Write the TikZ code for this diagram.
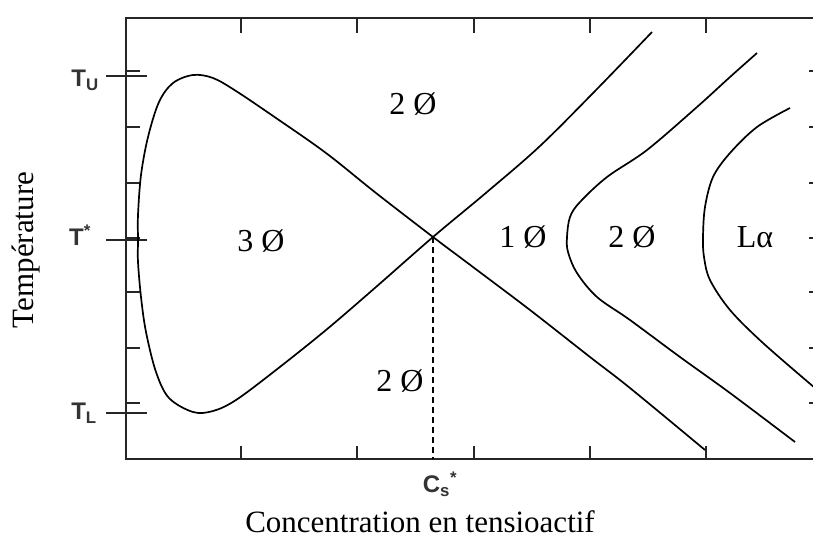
\documentclass[tikz,border=0pt]{standalone}
\usepackage{fontspec}
\setmainfont{Liberation Serif}
\setsansfont{Liberation Sans}
\begin{document}
\begin{tikzpicture}[x=1pt,y=-1pt,
  frame/.style={line width=1.5pt, black!85},
  curve/.style={line width=1.7pt, black, line join=round},
  tickmark/.style={line width=1.4pt, black!85},
  region/.style={font=\fontsize{32}{32}\selectfont, inner sep=0pt},
  axlab/.style={font=\fontsize{31}{31}\selectfont, inner sep=0pt},
  ticklab/.style={font=\sffamily\bfseries\fontsize{24}{24}\selectfont, text=black!80, inner sep=0pt}]
\useasboundingbox (0,0) rectangle (813,550);
\fill[white] (0,0) rectangle (813,550);

% frame
\draw[frame] (815,18) -- (126,18) -- (126,459) -- (815,459);

% ticks
\foreach \x in {241,357,474,590,706} {
  \draw[tickmark] (\x,18) -- (\x,33);
  \draw[tickmark] (\x,459) -- (\x,446);
}
\foreach \y in {71,127,183,238,292,348,403} {
  \draw[tickmark] (126,\y) -- (140,\y);
  \draw[tickmark] (809,\y) -- (815,\y);
}
\draw[tickmark] (106,76) -- (147,76);
\draw[tickmark] (106,240) -- (147,240);
\draw[tickmark] (106,413) -- (147,413);

% crossing point and dashed line
\coordinate (X) at (433,237);
\coordinate (Xb) at (433,459);
\draw[line width=1.4pt, dash pattern=on 6pt off 4pt] (X) -- (Xb);

% 3-phase loop with its two branches
\draw[curve] plot[smooth, tension=0.55] coordinates {
  (652,32) (597,89) (540,146) (487,192) (433,237) (376,287) (326,330)
  (276,370) (236,400) (213,411) (193,412) (169,398) (156,372) (146,332)
  (141,297) (138,262) (138,240) (138,215) (141,175) (148,137) (159,102)
  (173,83) (193,75) (213,78) (236,91) (276,118) (326,153) (376,193)
  (433,237) (473,267) (530,310) (590,357) (630,388) (705,450)};

% 1 phase / 2 phase boundary
\draw[curve] plot[smooth, tension=0.55] coordinates {
  (757,53) (730,77) (697,107) (647,150) (607,177) (580,202) (570,217)
  (567,237) (568,252) (577,273) (597,297) (630,320) (680,357) (730,393)
  (795,442)};

% L alpha boundary
\draw[curve] plot[smooth, tension=0.55] coordinates {
  (790,108) (757,127) (730,153) (713,177) (705,207) (703,237) (704,257)
  (710,280) (730,310) (763,343) (815,388)};

% region labels
\node[region] (r2top) at (413,104) {2 Ø};
\node[region] (r3) at (261,241) {3 Ø};
\node[region] (r1) at (523,237) {1 Ø};
\node[region] (r2mid) at (632,237) {2 Ø};
\node[region] (rla) at (755,237) {Lα};
\node[region] (r2bot) at (400,381) {2 Ø};

% tick labels
\node[ticklab] (tu) at (85,80) {T\textsubscript{U}};
\node[ticklab] (ts) at (80,235) {T\textsuperscript{*}};
\node[ticklab] (tl) at (84,413) {T\textsubscript{L}};
\node[ticklab] (cs) at (440,484) {C\textsubscript{s}\textsuperscript{*}};

% axis labels
\node[axlab, rotate=90] (ylab) at (26,250) {Température};
\node[axlab] (xlab) at (420,522) {Concentration en tensioactif};
\end{tikzpicture}
\end{document}
